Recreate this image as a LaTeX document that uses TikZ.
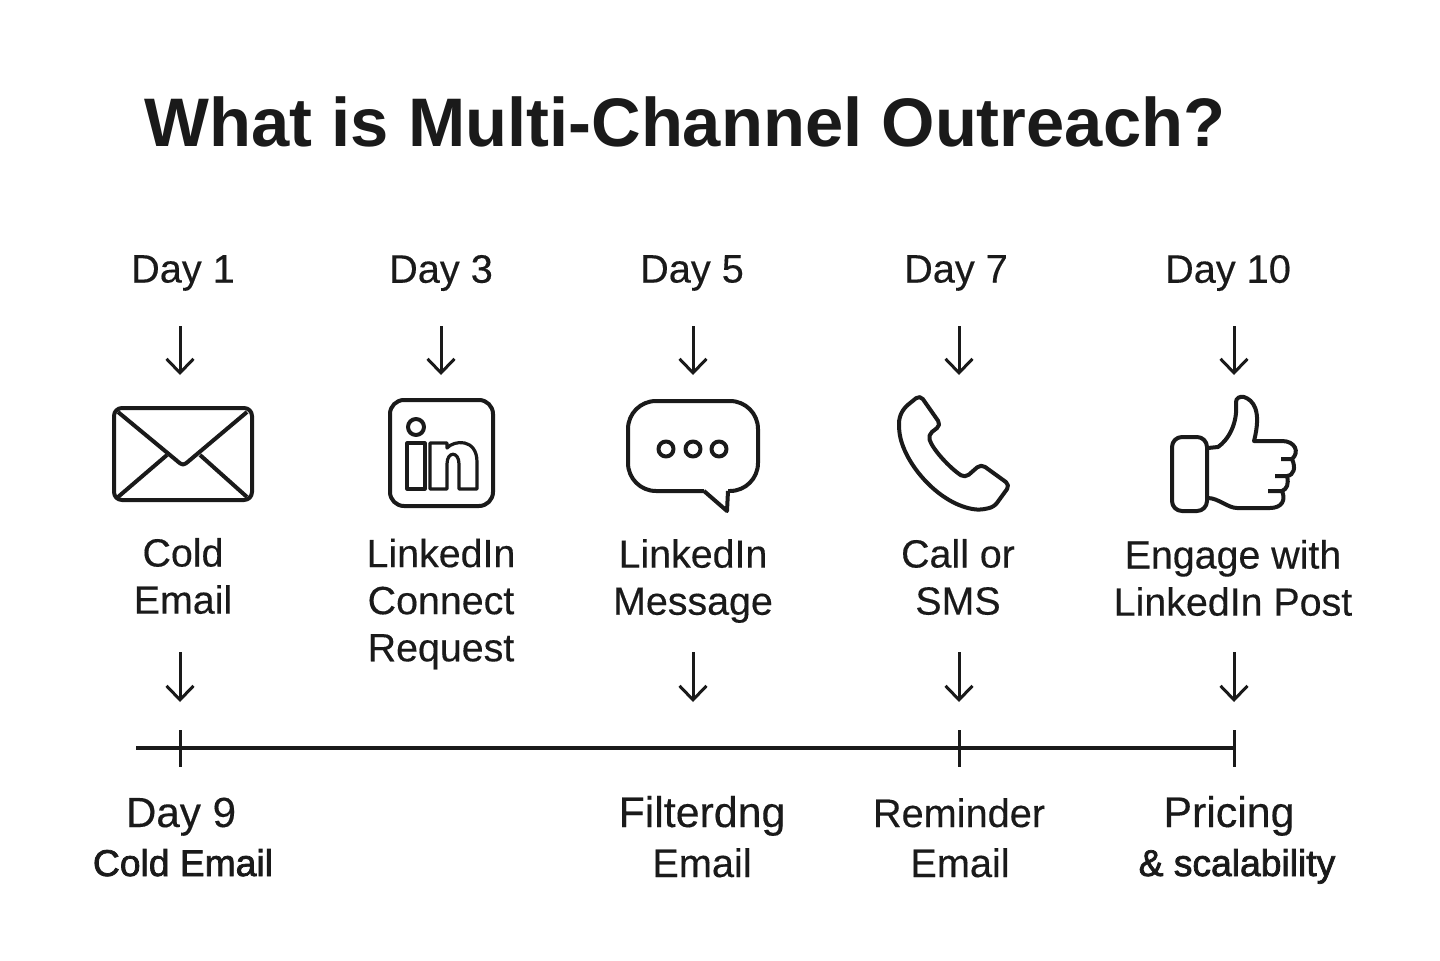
\documentclass[tikz,border=0pt]{standalone}
\usepackage{fontspec}
\setmainfont{Liberation Sans}
\newfontfamily\medfont[FakeBold=0.3]{Liberation Sans}
\newfontfamily\semifont[FakeBold=2]{Liberation Sans}
\usetikzlibrary{arrows.meta}
\definecolor{inkblack}{HTML}{1A1A1A}
\tikzset{
  arr/.style={-{Straight Barb[length=0.14cm,width=0.27cm]}, line width=0.03cm, color=inkblack},
  iconline/.style={line width=0.04cm, color=inkblack, line join=round},
  thinline/.style={line width=0.032cm, color=inkblack, line join=round},
  tickline/.style={line width=0.03cm, color=inkblack},
  timeline/.style={line width=0.036cm, color=inkblack},
  daylabel/.style={text=inkblack, font=\medfont\fontsize{11.3}{13.4}\selectfont, align=center, inner sep=0pt},
  steplabel/.style={text=inkblack, font=\medfont\fontsize{11.2}{13.4}\selectfont, align=center, inner sep=0pt},
  lowlabel/.style={text=inkblack, font=\medfont\fontsize{11.3}{14}\selectfont, anchor=base, inner sep=0pt}
}
\begin{document}
\begin{tikzpicture}
  \useasboundingbox[fill=white] (0, 0) rectangle (14.4, 9.6);

  \node[text=inkblack, font=\fontsize{19.55}{23}\bfseries\selectfont, inner sep=0pt] (title) at (6.85, 8.38) {What is Multi-Channel Outreach?};

  % day labels
  \node[daylabel] (day1) at (1.83, 6.87) {Day 1};
  \node[daylabel] (day3) at (4.41, 6.87) {Day 3};
  \node[daylabel] (day5) at (6.92, 6.87) {Day 5};
  \node[daylabel] (day7) at (9.56, 6.87) {Day 7};
  \node[daylabel] (day10) at (12.28, 6.87) {Day 10};

  % upper arrows
  \coordinate (up1a) at (1.80, 6.34);
  \coordinate (up1b) at (1.80, 5.85);
  \coordinate (up3a) at (4.41, 6.34);
  \coordinate (up3b) at (4.41, 5.85);
  \coordinate (up5a) at (6.93, 6.34);
  \coordinate (up5b) at (6.93, 5.85);
  \coordinate (up7a) at (9.59, 6.34);
  \coordinate (up7b) at (9.59, 5.85);
  \coordinate (up10a) at (12.34, 6.34);
  \coordinate (up10b) at (12.34, 5.85);
  \draw[arr] (up1a) -- (up1b);
  \draw[arr] (up3a) -- (up3b);
  \draw[arr] (up5a) -- (up5b);
  \draw[arr] (up7a) -- (up7b);
  \draw[arr] (up10a) -- (up10b);

  % envelope
  \draw[iconline, rounded corners=0.08cm] (1.14, 5.52) rectangle (2.52, 4.60);
  \draw[iconline] (1.18, 5.48) -- (1.76, 5.00) .. controls (1.83, 4.94) .. (1.90, 5.00) -- (2.47, 5.48);
  \draw[iconline] (1.18, 4.63) -- (1.67, 5.05);
  \draw[iconline] (2.00, 5.05) -- (2.47, 4.63);

  % linkedin
  \draw[iconline, rounded corners=0.14cm] (3.90, 5.60) rectangle (4.93, 4.54);
  \draw[iconline] (4.16, 5.33) circle (0.08);
  \draw[thinline] (4.07, 5.17) rectangle (4.25, 4.71);
  \draw[thinline] (4.30, 4.71) -- (4.30, 5.17) -- (4.47, 5.17) -- (4.47, 5.12)
    .. controls (4.54, 5.20) and (4.77, 5.22) .. (4.77, 4.98) -- (4.77, 4.71) -- (4.59, 4.71) -- (4.59, 4.96)
    .. controls (4.59, 5.09) and (4.47, 5.09) .. (4.47, 4.96) -- (4.47, 4.71) -- cycle;

  % speech bubble
  \draw[iconline, rounded corners=0.28cm] (7.04, 4.69) -- (6.28, 4.69) -- (6.28, 5.59) -- (7.58, 5.59) -- (7.58, 4.69) -- (7.28, 4.69);
  \draw[iconline] (7.04, 4.69) -- (7.27, 4.49) -- (7.28, 4.69);
  \draw[iconline] (6.66, 5.11) circle (0.075);
  \draw[iconline] (6.93, 5.11) circle (0.075);
  \draw[iconline] (7.19, 5.11) circle (0.075);

  % phone
  \draw[iconline, rounded corners=0.05cm] (9.20, 5.65) -- (9.41, 5.35) -- (9.28, 5.25)
    .. controls (9.33, 5.10) and (9.50, 4.92) .. (9.65, 4.82) -- (9.81, 4.96) -- (10.10, 4.75) -- (9.94, 4.53) -- (9.80, 4.50)
    .. controls (9.40, 4.55) and (9.05, 4.95) .. (8.99, 5.30) -- (8.99, 5.42) -- (9.04, 5.52) -- cycle;

  % thumb
  \draw[iconline, rounded corners=0.1cm] (11.72, 5.23) rectangle (12.07, 4.49);
  \draw[iconline] (12.08, 5.12) -- (12.18, 5.13) .. controls (12.28, 5.20) and (12.38, 5.36) .. (12.36, 5.58)
    .. controls (12.36, 5.62) and (12.40, 5.64) .. (12.44, 5.63) .. controls (12.53, 5.60) and (12.62, 5.50) .. (12.54, 5.19)
    -- (12.82, 5.19) .. controls (12.95, 5.19) and (13.00, 5.08) .. (12.92, 5.01) -- (12.81, 5.01);
  \draw[iconline] (12.92, 5.01) .. controls (12.96, 4.92) and (12.94, 4.85) .. (12.87, 4.84) -- (12.75, 4.84);
  \draw[iconline] (12.87, 4.84) .. controls (12.89, 4.76) and (12.87, 4.71) .. (12.82, 4.69) -- (12.68, 4.69);
  \draw[iconline] (12.82, 4.69) .. controls (12.86, 4.60) and (12.82, 4.52) .. (12.70, 4.52) -- (12.37, 4.52)
    .. controls (12.28, 4.52) and (12.18, 4.62) .. (12.08, 4.62);

  % step labels
  \node[steplabel] (cold) at (1.83, 3.84) {Cold\\Email};
  \node[steplabel] (connect) at (4.41, 3.56) {LinkedIn\\Connect\\Request};
  \node[steplabel] (message) at (6.93, 3.79) {LinkedIn\\Message};
  \node[steplabel] (call) at (9.58, 3.83) {Call or\\SMS};
  \node[steplabel] (engage) at (12.33, 3.82) {Engage with\\LinkedIn Post};

  % lower arrows
  \coordinate (low1a) at (1.80, 3.08);
  \coordinate (low1b) at (1.80, 2.58);
  \coordinate (low5a) at (6.93, 3.08);
  \coordinate (low5b) at (6.93, 2.58);
  \coordinate (low7a) at (9.59, 3.08);
  \coordinate (low7b) at (9.59, 2.58);
  \coordinate (low10a) at (12.34, 3.08);
  \coordinate (low10b) at (12.34, 2.58);
  \draw[arr] (low1a) -- (low1b);
  \draw[arr] (low5a) -- (low5b);
  \draw[arr] (low7a) -- (low7b);
  \draw[arr] (low10a) -- (low10b);

  % timeline
  \coordinate (linestart) at (1.36, 2.12);
  \coordinate (lineend) at (12.34, 2.12);
  \draw[timeline] (linestart) -- (lineend);
  \draw[tickline] (1.80, 2.30) -- (1.80, 1.93);
  \draw[tickline] (9.59, 2.30) -- (9.59, 1.93);
  \draw[tickline] (12.34, 2.30) -- (12.34, 1.93);

  % bottom labels
  \node[lowlabel, font=\medfont\fontsize{12}{14}\selectfont] (day9) at (1.81, 1.33) {Day 9};
  \node[lowlabel, font=\semifont\fontsize{10.6}{14}\selectfont] (coldmail) at (1.83, 0.84) {Cold Email};
  \node[lowlabel, font=\medfont\fontsize{12.2}{14}\selectfont] (filter) at (7.02, 1.33) {Filterdng};
  \node[lowlabel] (filtermail) at (7.02, 0.83) {Email};
  \node[lowlabel] (remind) at (9.59, 1.33) {Reminder};
  \node[lowlabel] (remindmail) at (9.60, 0.83) {Email};
  \node[lowlabel, font=\medfont\fontsize{12.2}{14}\selectfont] (pricing) at (12.29, 1.33) {Pricing};
  \node[lowlabel, font=\semifont\fontsize{10.6}{14}\selectfont] (scale) at (12.37, 0.84) {\& scalability};
\end{tikzpicture}
\end{document}
